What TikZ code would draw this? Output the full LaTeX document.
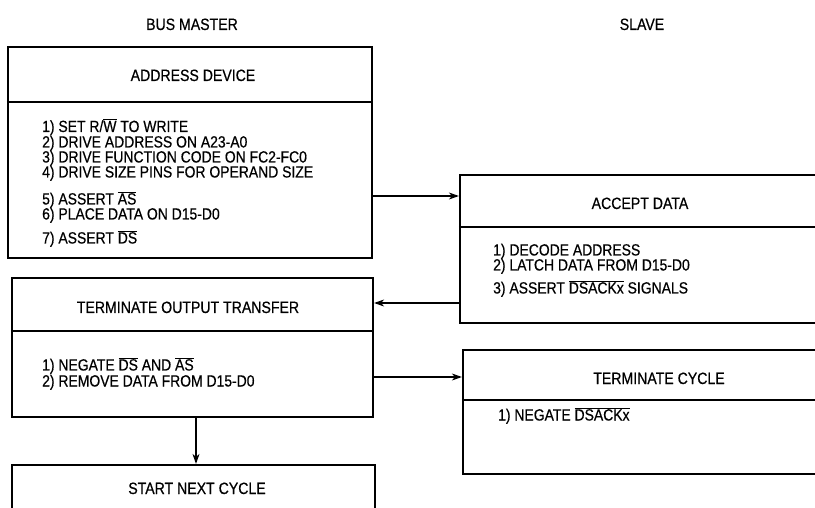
\documentclass[tikz,border=0pt]{standalone}
\usepackage{fontspec}
\setmainfont{Liberation Sans}[FakeStretch=0.86,FakeBold=0.5]
\usetikzlibrary{arrows.meta}
\newcommand\ovl[1]{\ensuremath{\overline{\mbox{#1}}}}
\begin{document}
\begin{tikzpicture}[x=1pt,y=1pt,
  box/.style={draw, line width=2.2pt, rectangle, inner sep=0pt},
  head/.style={font=\fontsize{16.4}{18}\selectfont, inner sep=0pt, anchor=base},
  item/.style={font=\fontsize{16.2}{18}\selectfont, inner sep=0pt, anchor=base west,
    text height=11.5pt, text depth=2pt},
  divider/.style={line width=2pt},
  conn/.style={line width=1.2pt, -{Stealth[length=10pt,width=7pt,inset=3pt]}}]
\useasboundingbox (0,0) rectangle (815,507);
\clip (0,0) rectangle (815,507);

% column titles
\node[head] (bm) at (192,477) {BUS MASTER};
\node[head] (sl) at (642,477) {SLAVE};

% boxes
\node[box, minimum width=364pt, minimum height=211pt] (ad) at (190,354.5) {};
\node[box, minimum width=360pt, minimum height=148pt] (acc) at (640,258) {};
\node[box, minimum width=361pt, minimum height=139pt] (tot) at (192.5,159.5) {};
\node[box, minimum width=392pt, minimum height=124pt] (tc) at (659,95) {};
\node[box, minimum width=363pt, minimum height=80pt] (snc) at (193.5,2) {};

% dividers
\coordinate (dad) at (0,405);
\coordinate (dacc) at (0,280);
\coordinate (dtot) at (0,176);
\coordinate (dtc) at (0,107);
\draw[divider] (ad.west |- dad) -- (ad.east |- dad);
\draw[divider] (acc.west |- dacc) -- (acc.east |- dacc);
\draw[divider] (tot.west |- dtot) -- (tot.east |- dtot);
\draw[divider] (tc.west |- dtc) -- (tc.east |- dtc);

% headings
\node[head] (adh) at (193,426) {ADDRESS DEVICE};
\node[head] (acch) at (640,298) {ACCEPT DATA};
\node[head] (toth) at (188,194) {TERMINATE OUTPUT TRANSFER};
\node[head] (tch) at (659,123) {TERMINATE CYCLE};
\node[head] (snch) at (197,13) {START NEXT CYCLE};

% address device items
\node[item] (ad1) at (42,375) {1) SET R/\ovl{W} TO WRITE};
\node[item] (ad2) at (42,359.5) {2) DRIVE ADDRESS ON A23-A0};
\node[item] (ad3) at (42,344.5) {3) DRIVE FUNCTION CODE ON FC2-FC0};
\node[item] (ad4) at (42,329.5) {4) DRIVE SIZE PINS FOR OPERAND SIZE};
\node[item] (ad5) at (42,302.5) {5) ASSERT \ovl{AS}};
\node[item] (ad6) at (42,287.5) {6) PLACE DATA ON D15-D0};
\node[item] (ad7) at (42,263.5) {7) ASSERT \ovl{DS}};

% accept data items
\node[item] (acc1) at (493,251.5) {1) DECODE ADDRESS};
\node[item] (acc2) at (493,236.5) {2) LATCH DATA FROM D15-D0};
\node[item] (acc3) at (493,213.5) {3) ASSERT \ovl{DSACKx} SIGNALS};

% terminate output transfer items
\node[item] (tot1) at (42,136.5) {1) NEGATE \ovl{DS} AND \ovl{AS}};
\node[item] (tot2) at (42,120.5) {2) REMOVE DATA FROM D15-D0};

% terminate cycle item
\node[item] (tc1) at (498,86.5) {1) NEGATE \ovl{DSACKx}};

% connectors
\coordinate (y1) at (0,311);
\coordinate (y2) at (0,204);
\coordinate (y3) at (0,130);
\coordinate (x1) at (196,0);
\draw[conn] (ad.east |- y1) -- (acc.west |- y1);
\draw[conn] (acc.west |- y2) -- (tot.east |- y2);
\draw[conn] (tot.east |- y3) -- (tc.west |- y3);
\draw[conn] (tot.south -| x1) -- (snc.north -| x1);
\end{tikzpicture}
\end{document}
